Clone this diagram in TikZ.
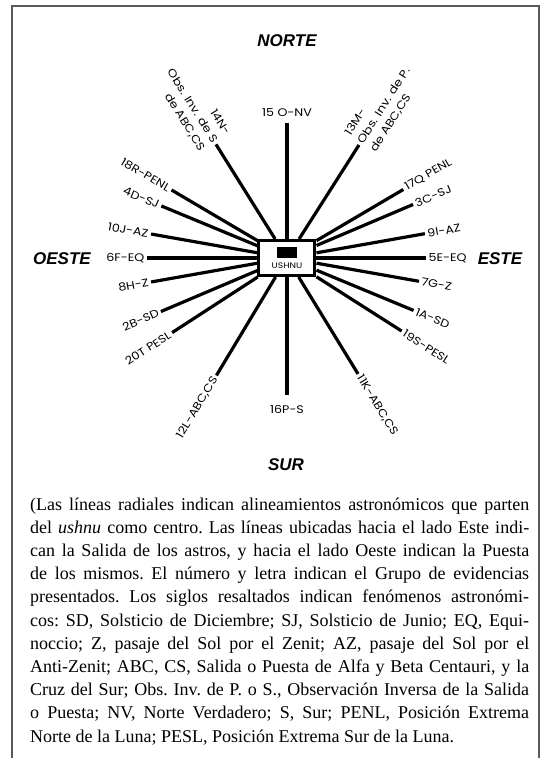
\documentclass[tikz,border=0pt]{standalone}
\usepackage{fontspec}
\setmainfont{Liberation Serif}
\newfontfamily\rayfont[FakeStretch=1.15]{Poppins}
\newfontfamily\rumbofont{Liberation Sans}
\definecolor{marco}{RGB}{90,90,90}
\tikzset{
  ray/.style={line width=3.2pt},
  lbl/.style={font=\rayfont\fontsize{11}{15}\selectfont, inner sep=2.5pt},
  rumbo/.style={font=\rumbofont\bfseries\itshape\fontsize{17}{17}\selectfont},
}
\begin{document}
\begin{tikzpicture}[x=1pt,y=1pt]
\useasboundingbox (-287,-500) rectangle (255,258);
% marco
\draw[marco, line width=1.8pt] (-275,-500) -- (-275,252) -- (252,252) -- (252,-500);

% ushnu al centro
\node[draw, line width=3pt, fill=white, minimum width=56pt, minimum height=35pt,
  inner sep=0pt, align=center] (ushnu) at (0,0)
  {\rule{20pt}{11pt}\\[-1pt]{\rayfont\fontsize{8}{8}\selectfont USHNU}};

% extremos de las lineas
\coordinate (r15) at (90:135);
\coordinate (r16) at (270:137);
\coordinate (r14) at (122:134);
\coordinate (r13) at (57.5:134);
\coordinate (r18) at (149.5:134);
\coordinate (r17) at (30.5:135);
\coordinate (r4) at (157.5:136);
\coordinate (r3) at (23:137);
\coordinate (r10) at (170:138);
\coordinate (r9) at (10:140);
\coordinate (r6) at (180:140);
\coordinate (r5) at (0:139);
\coordinate (r8) at (190:138);
\coordinate (r7) at (-10:134);
\coordinate (r2) at (203:137);
\coordinate (r1) at (-22.5:137);
\coordinate (r20) at (213:137);
\coordinate (r19) at (-32.5:136);
\coordinate (r12) at (239:137);
\coordinate (r11) at (-58.5:136);

\draw[ray] (ushnu) -- (r15);
\draw[ray] (ushnu) -- (r16);
\draw[ray] (ushnu) -- (r14);
\draw[ray] (ushnu) -- (r13);
\draw[ray] (ushnu) -- (r18);
\draw[ray] (ushnu) -- (r17);
\draw[ray] (ushnu) -- (r4);
\draw[ray] (ushnu) -- (r3);
\draw[ray] (ushnu) -- (r10);
\draw[ray] (ushnu) -- (r9);
\draw[ray] (ushnu) -- (r6);
\draw[ray] (ushnu) -- (r5);
\draw[ray] (ushnu) -- (r8);
\draw[ray] (ushnu) -- (r7);
\draw[ray] (ushnu) -- (r2);
\draw[ray] (ushnu) -- (r1);
\draw[ray] (ushnu) -- (r20);
\draw[ray] (ushnu) -- (r19);
\draw[ray] (ushnu) -- (r12);
\draw[ray] (ushnu) -- (r11);

% rotulos, lado oeste
\node[lbl, above=4pt] (l15) at (r15) {15 O-NV};
\node[lbl, below=8pt] (l16) at (r16) {16P-S};
\node[lbl, anchor=east, rotate=-58, align=right] (l14) at (r14) {14N-\\Obs. Inv. de S\\de ABC,CS};
\node[lbl, anchor=east, rotate=-30.5] (l18) at (r18) {18R-PENL};
\node[lbl, anchor=east, rotate=-22.5] (l4) at (r4) {4D-SJ};
\node[lbl, anchor=east, rotate=-10] (l10) at (r10) {10J-AZ};
\node[lbl, anchor=east] (l6) at (r6) {6F-EQ};
\node[lbl, anchor=east, rotate=10] (l8) at (r8) {8H-Z};
\node[lbl, anchor=east, rotate=23] (l2) at (r2) {2B-SD};
\node[lbl, anchor=east, rotate=33] (l20) at (r20) {20T PESL};
\node[lbl, anchor=east, rotate=59] (l12) at (r12) {12L-ABC,CS};
% rotulos, lado este
\node[lbl, anchor=west, rotate=57.5, align=left] (l13) at (r13) {13M-\\Obs. Inv. de P.\\de ABC,CS};
\node[lbl, anchor=west, rotate=30.5] (l17) at (r17) {17Q PENL};
\node[lbl, anchor=west, rotate=23] (l3) at (r3) {3C-SJ};
\node[lbl, anchor=west, rotate=10] (l9) at (r9) {9I-AZ};
\node[lbl, anchor=west] (l5) at (r5) {5E-EQ};
\node[lbl, anchor=west, rotate=-10] (l7) at (r7) {7G-Z};
\node[lbl, anchor=west, rotate=-22.5] (l1) at (r1) {1A-SD};
\node[lbl, anchor=west, rotate=-32.5] (l19) at (r19) {19S-PESL};
\node[lbl, anchor=west, rotate=-58.5] (l11) at (r11) {11K-ABC,CS};

% puntos cardinales
\node[rumbo] (norte) at (0,217) {NORTE};
\node[rumbo] (sur) at (-1,-207) {SUR};
\node[rumbo] (oeste) at (-225,-1) {OESTE};
\node[rumbo] (este) at (213,-1) {ESTE};

% nota al pie
\node[anchor=base west, inner sep=0pt] (nota) at (-257,-252) {\parbox[t]{499pt}{%
\fontsize{18}{23.2}\selectfont\frenchspacing
\makebox[\linewidth][s]{(Las líneas radiales indican alineamientos astronómicos que parten}\\
\makebox[\linewidth][s]{del \textit{ushnu} como centro. Las líneas ubicadas hacia el lado Este indi-}\\
\makebox[\linewidth][s]{can la Salida de los astros, y hacia el lado Oeste indican la Puesta}\\
\makebox[\linewidth][s]{de los mismos. El número y letra indican el Grupo de evidencias}\\
\makebox[\linewidth][s]{presentados. Los siglos resaltados indican fenómenos astronómi-}\\
\makebox[\linewidth][s]{cos: SD, Solsticio de Diciembre; SJ, Solsticio de Junio; EQ, Equi-}\\
\makebox[\linewidth][s]{noccio; Z, pasaje del Sol por el Zenit; AZ, pasaje del Sol por el}\\
\makebox[\linewidth][s]{Anti-Zenit; ABC, CS, Salida o Puesta de Alfa y Beta Centauri, y la}\\
\makebox[\linewidth][s]{Cruz del Sur; Obs. Inv. de P. o S., Observación Inversa de la Salida}\\
\makebox[\linewidth][s]{o Puesta; NV, Norte Verdadero; S, Sur; PENL, Posición Extrema}\\
Norte de la Luna; PESL, Posición Extrema Sur de la Luna.}};
\end{tikzpicture}
\end{document}
